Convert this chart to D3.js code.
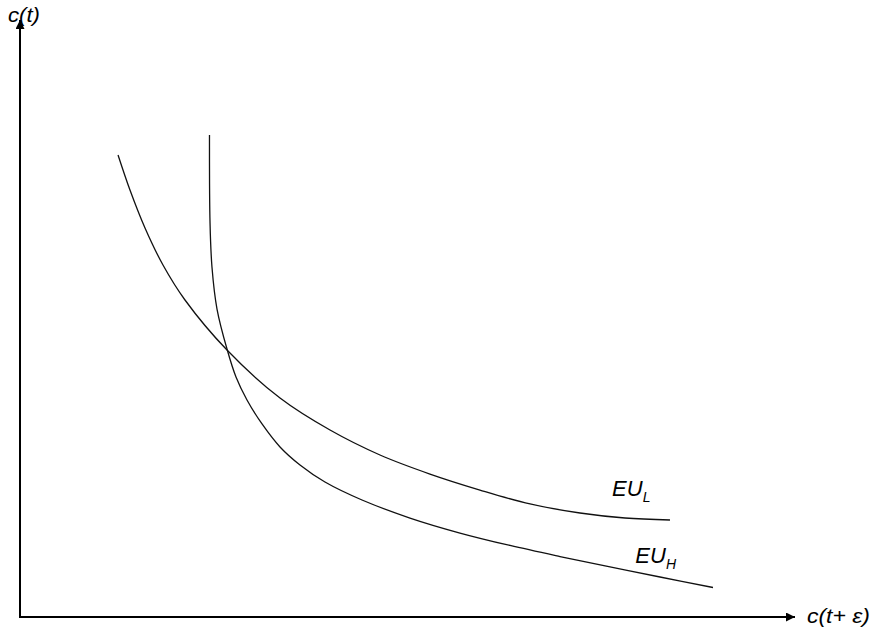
<!DOCTYPE html>
<html>
<head>
<meta charset="utf-8">
<script src="https://cdn.jsdelivr.net/npm/d3@7"></script>
<style>
  body { margin: 0; background: #fff; }
  svg { display: block; }
  text { font-family: "Liberation Sans", Arial, sans-serif; font-style: italic; fill: #000; }
</style>
</head>
<body>
<div id="chart"></div>
<script>
// Indifference curves (axis units 0..100)
const euLowX  = [12.65, 14.19, 16.13, 18.45, 21.29, 26.71, 33.55, 40.00, 46.45, 52.90, 59.35, 65.81, 72.26, 78.06, 83.87];
const euLowY  = [77.39, 71.52, 65.16, 58.96, 53.10, 44.72, 36.68, 31.32, 27.14, 23.95, 21.27, 18.93, 17.42, 16.58, 16.25];
const euHighX = [24.45, 24.52, 24.77, 25.42, 26.71, 27.87, 29.29, 31.23, 33.55, 36.13, 39.35, 44.13, 50.32, 56.77, 63.23, 69.68, 76.13, 82.58, 89.42];
const euHighY = [80.74, 66.00, 58.63, 51.59, 44.89, 40.20, 36.35, 32.33, 28.48, 25.46, 22.61, 19.60, 16.58, 14.07, 11.98, 10.13, 8.38, 6.70, 4.94];

const curveNames = ["EU", "EU"];
const curveSubs = ["L", "H"];
const xTitle = "c(t+ ε)";
const yTitle = "c(t)";

const width = 875;
const height = 632;
const origin = { x: 20, y: 617 };
const axisEnd = { x: 795, y: 20 };

const svg = d3.select("#chart")
  .append("svg")
  .attr("width", width)
  .attr("height", height);

const x = d3.scaleLinear()
  .domain([0, 100])
  .range([origin.x, axisEnd.x]);

const y = d3.scaleLinear()
  .domain([0, 100])
  .range([origin.y, axisEnd.y]);

// arrow heads
svg.append("defs").append("marker")
  .attr("id", "arrow")
  .attr("viewBox", "0 0 10 10")
  .attr("refX", 10)
  .attr("refY", 5)
  .attr("markerWidth", 5)
  .attr("markerHeight", 4.5)
  .attr("markerUnits", "strokeWidth")
  .attr("orient", "auto")
  .append("path")
  .attr("d", "M0,0 L10,5 L0,10 z")
  .attr("fill", "#000");

// axes
svg.append("line")
  .attr("x1", x(0)).attr("y1", y(0))
  .attr("x2", x(0)).attr("y2", y(100))
  .attr("stroke", "#000")
  .attr("stroke-width", 2)
  .attr("marker-end", "url(#arrow)");

svg.append("line")
  .attr("x1", x(0) - 1).attr("y1", y(0))
  .attr("x2", x(100)).attr("y2", y(0))
  .attr("stroke", "#000")
  .attr("stroke-width", 2)
  .attr("marker-end", "url(#arrow)");

// curves
const line = d3.line()
  .x(d => x(d[0]))
  .y(d => y(d[1]))
  .curve(d3.curveCatmullRom.alpha(0.5));

const series = [
  d3.zip(euLowX, euLowY),
  d3.zip(euHighX, euHighY)
];

svg.selectAll("path.curve")
  .data(series)
  .enter()
  .append("path")
  .attr("class", "curve")
  .attr("d", line)
  .attr("fill", "none")
  .attr("stroke", "#111")
  .attr("stroke-width", 1.3);

// curve labels
const labelPos = [[76.4, 20.3], [79.4, 9.0]];

const labels = svg.selectAll("text.curve-label")
  .data(curveNames)
  .enter()
  .append("text")
  .attr("class", "curve-label")
  .attr("x", (d, i) => x(labelPos[i][0]))
  .attr("y", (d, i) => y(labelPos[i][1]))
  .attr("font-size", 22);

labels.append("tspan").text(d => d);
labels.append("tspan")
  .attr("dy", 6)
  .attr("font-size", 14)
  .text((d, i) => curveSubs[i]);

// axis titles (stretched a little, like the source)
svg.append("text")
  .attr("x", 8)
  .attr("y", 22)
  .attr("font-size", 20)
  .attr("textLength", 32)
  .attr("lengthAdjust", "spacingAndGlyphs")
  .text(yTitle);

svg.append("text")
  .attr("x", 807)
  .attr("y", 623)
  .attr("font-size", 20)
  .attr("textLength", 63)
  .attr("lengthAdjust", "spacingAndGlyphs")
  .text(xTitle);
</script>
</body>
</html>
